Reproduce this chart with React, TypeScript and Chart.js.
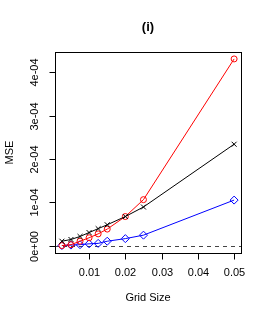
import React, { useEffect, useRef } from "react";
import { Chart, registerables } from "chart.js";

Chart.register(...registerables);

const gridSizes = [0.0025, 0.005, 0.0075, 0.01, 0.0125, 0.015, 0.02, 0.025, 0.05];
const blackSeries = [1.0e-5, 1.4e-5, 2.1e-5, 3.0e-5, 3.9e-5, 4.8e-5, 6.7e-5, 8.9e-5, 23.4e-5];
const redSeries = [0.0, 0.2e-5, 1.0e-5, 1.8e-5, 2.7e-5, 3.8e-5, 6.7e-5, 10.6e-5, 43.1e-5];
const blueSeries = [0.0, 0.1e-5, 0.2e-5, 0.4e-5, 0.5e-5, 1.0e-5, 1.6e-5, 2.4e-5, 10.5e-5];
const xTicks = [0.01, 0.02, 0.03, 0.04, 0.05];
const xTickLabels = ["0.01", "0.02", "0.03", "0.04", "0.05"];
const yTicks = [0, 1e-4, 2e-4, 3e-4, 4e-4];
const yTickLabels = ["0e+00", "1e-04", "2e-04", "3e-04", "4e-04"];
const titleText = "(i)";
const xLabel = "Grid Size";
const yLabel = "MSE";

const FONT = "Liberation Sans, Arial, Helvetica, sans-serif";

const rAxesPlugin = {
  id: "rAxes",
  beforeDatasetsDraw(chart: any) {
    const { ctx, chartArea, scales } = chart;
    const ys = scales.y;
    const y0 = ys.getPixelForValue(0);
    ctx.save();
    ctx.strokeStyle = "#444";
    ctx.lineWidth = 1;
    ctx.setLineDash([4, 4]);
    ctx.beginPath();
    ctx.moveTo(chartArea.left, Math.round(y0) + 0.5);
    ctx.lineTo(chartArea.right, Math.round(y0) + 0.5);
    ctx.stroke();
    ctx.restore();
  },
  afterDraw(chart: any) {
    const { ctx, chartArea, scales } = chart;
    const xs = scales.x;
    const ys = scales.y;
    const { left, right, top, bottom } = chartArea;
    ctx.save();
    ctx.strokeStyle = "#000";
    ctx.lineWidth = 1;
    ctx.setLineDash([]);
    ctx.strokeRect(Math.round(left) + 0.5, Math.round(top) + 0.5, Math.round(right - left), Math.round(bottom - top));
    ctx.fillStyle = "#000";
    ctx.font = `11px ${FONT}`;
    ctx.textAlign = "center";
    ctx.textBaseline = "middle";
    xTicks.forEach((t, i) => {
      const px = Math.round(xs.getPixelForValue(t)) + 0.5;
      ctx.beginPath();
      ctx.moveTo(px, Math.round(bottom) + 0.5);
      ctx.lineTo(px, Math.round(bottom) + 6.5);
      ctx.stroke();
      ctx.fillText(xTickLabels[i], px, bottom + 20);
    });
    yTicks.forEach((t, i) => {
      const py = Math.round(ys.getPixelForValue(t)) + 0.5;
      ctx.beginPath();
      ctx.moveTo(Math.round(left) + 0.5, py);
      ctx.lineTo(Math.round(left) - 5.5, py);
      ctx.stroke();
      ctx.save();
      ctx.translate(left - 20, py);
      ctx.rotate(-Math.PI / 2);
      ctx.fillText(yTickLabels[i], 0, 0);
      ctx.restore();
    });
    ctx.fillText(xLabel, (left + right) / 2, bottom + 45);
    ctx.save();
    ctx.translate(10, (top + bottom) / 2);
    ctx.rotate(-Math.PI / 2);
    ctx.fillText(yLabel, 0, 0);
    ctx.restore();
    ctx.font = `bold 13px ${FONT}`;
    ctx.fillText(titleText, (left + right) / 2, 27);
    ctx.restore();
  },
};

export default function App() {
  const ref = useRef<HTMLCanvasElement | null>(null);
  useEffect(() => {
    document.body.style.margin = "0";
    const canvas = ref.current!;
    const mk = (data: number[]) => gridSizes.map((x, i) => ({ x, y: data[i] }));
    const chart = new Chart(canvas, {
      type: "line",
      data: {
        datasets: [
          {
            data: mk(blackSeries),
            borderColor: "#000",
            backgroundColor: "transparent",
            pointStyle: "crossRot",
            pointRadius: 3.5,
            pointBorderColor: "#000",
            borderWidth: 1,
            pointBorderWidth: 1,
          },
          {
            data: mk(redSeries),
            borderColor: "#ff0000",
            backgroundColor: "transparent",
            pointStyle: "circle",
            pointRadius: 3,
            pointBorderColor: "#ff0000",
            borderWidth: 1,
            pointBorderWidth: 1,
          },
          {
            data: mk(blueSeries),
            borderColor: "#0000ff",
            backgroundColor: "transparent",
            pointStyle: "rectRot",
            pointRadius: 4,
            pointBorderColor: "#0000ff",
            borderWidth: 1,
            pointBorderWidth: 1,
          },
        ],
      },
      options: {
        animation: false,
        responsive: false,
        devicePixelRatio: 1,
        layout: { padding: { left: 55, top: 52, right: 28, bottom: 66 } },
        plugins: { legend: { display: false }, tooltip: { enabled: false }, title: { display: false } },
        scales: {
          x: { type: "linear", min: 0.0006, max: 0.0519, display: false },
          y: { type: "linear", min: -0.172e-4, max: 4.47e-4, display: false },
        },
      },
      plugins: [rAxesPlugin],
    });
    return () => chart.destroy();
  }, []);
  return (
    <div style={{ position: "absolute", left: 0, top: 0, width: 269, height: 319, background: "#fff" }}>
      <canvas ref={ref} width={269} height={319} style={{ width: 269, height: 319 }} />
    </div>
  );
}
